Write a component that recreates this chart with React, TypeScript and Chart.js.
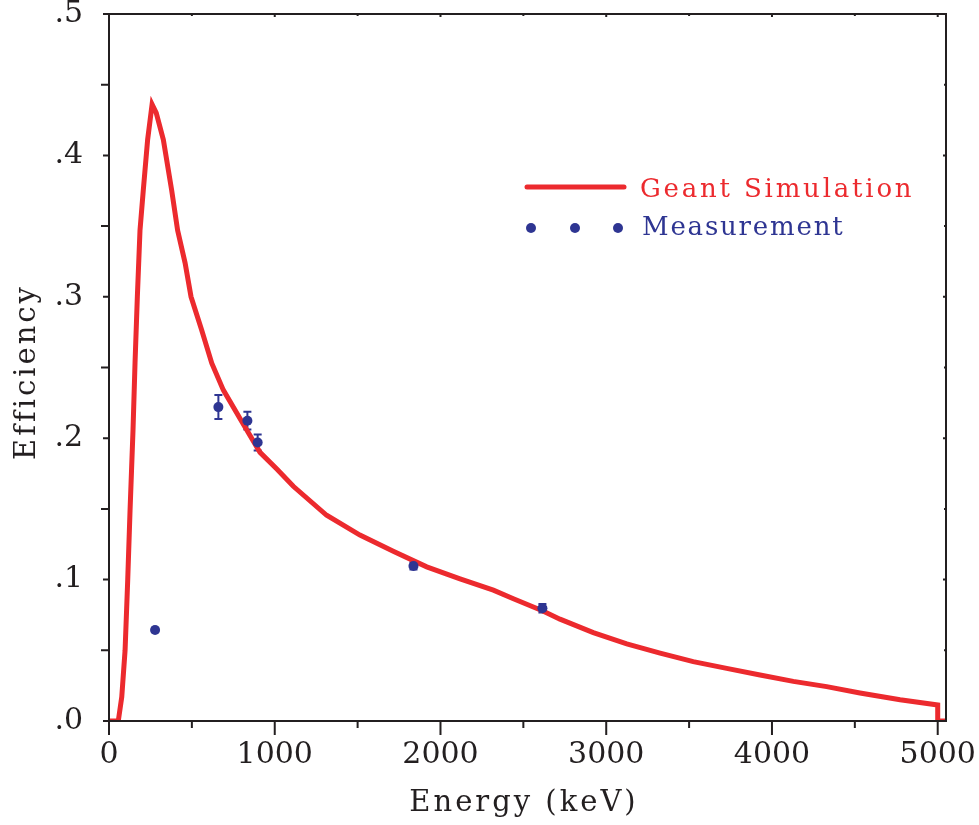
import React, { useEffect, useRef } from "react";
import { Chart, registerables } from "chart.js";

Chart.register(...registerables);

// Geant simulation curve (energy in keV, efficiency)
const simEnergy = [0, 56, 77, 97, 113, 127, 145, 157, 171, 187, 207, 233, 260, 285, 328, 378, 414, 459, 495, 559, 620, 690, 800, 911, 1014, 1112, 1313, 1514, 1715, 1917, 2118, 2319, 2440, 2615, 2721, 2922, 3124, 3325, 3525, 3727, 3928, 4129, 4330, 4531, 4773, 5000, 5000, 5050];
const simEfficiency = [0, 0, 0.017, 0.05, 0.1, 0.149, 0.206, 0.253, 0.3, 0.347, 0.3755, 0.411, 0.436, 0.43, 0.411, 0.3755, 0.347, 0.324, 0.3, 0.2765, 0.253, 0.234, 0.212, 0.19, 0.178, 0.166, 0.1455, 0.1315, 0.12, 0.109, 0.1005, 0.0925, 0.0865, 0.078, 0.072, 0.0625, 0.0545, 0.048, 0.042, 0.0372, 0.0325, 0.028, 0.0243, 0.0198, 0.015, 0.0113, 0, 0];

// Measurements
const measEnergy = [278, 660, 835, 897, 1837, 2615];
const measEfficiency = [0.0644, 0.222, 0.2124, 0.197, 0.1096, 0.0797];
const measError = [0.0015, 0.0085, 0.0063, 0.0057, 0.0025, 0.003];

// Axes
const xMajorTicks = [0, 1000, 2000, 3000, 4000, 5000];
const xMinorTicks = [500, 1500, 2500, 3500, 4500];
const yMajorTicks = [0, 0.1, 0.2, 0.3, 0.4, 0.5];
const yMajorLabels = [".0", ".1", ".2", ".3", ".4", ".5"];
const yMinorTicks = [0.05, 0.15, 0.25, 0.35, 0.45];

const xTitle = "Energy (keV)";
const yTitle = "Efficiency";
const legendLabels = ["Geant Simulation", "Measurement"];

const RED = "#ec2a2e";
const BLUE = "#2e3592";
const INK = "#231f20";
const SERIF = "'DejaVu Serif', serif";

const decorPlugin = {
  id: "decor",
  beforeDatasetsDraw(chart: any) {
    const ctx = chart.ctx;
    const xs = chart.scales.x;
    const ys = chart.scales.y;
    ctx.save();
    ctx.strokeStyle = BLUE;
    ctx.lineWidth = 2;
    measEnergy.forEach((e, i) => {
      const px = xs.getPixelForValue(e);
      const y1 = ys.getPixelForValue(measEfficiency[i] + measError[i]);
      const y2 = ys.getPixelForValue(measEfficiency[i] - measError[i]);
      ctx.beginPath();
      ctx.moveTo(px, y1);
      ctx.lineTo(px, y2);
      ctx.moveTo(px - 4, y1);
      ctx.lineTo(px + 4, y1);
      ctx.moveTo(px - 4, y2);
      ctx.lineTo(px + 4, y2);
      ctx.stroke();
    });
    ctx.restore();
  },
  afterDraw(chart: any) {
    const ctx = chart.ctx;
    const { left, right, top, bottom } = chart.chartArea;
    const xs = chart.scales.x;
    const ys = chart.scales.y;
    ctx.save();
    // frame
    ctx.strokeStyle = INK;
    ctx.lineWidth = 2;
    ctx.strokeRect(left, top, right - left, bottom - top);
    ctx.beginPath();
    xMajorTicks.forEach((v) => {
      const p = xs.getPixelForValue(v);
      ctx.moveTo(p, bottom);
      ctx.lineTo(p, bottom + 14);
      ctx.moveTo(p, top);
      ctx.lineTo(p, top + 3);
    });
    xMinorTicks.forEach((v) => {
      const p = xs.getPixelForValue(v);
      ctx.moveTo(p, bottom);
      ctx.lineTo(p, bottom + 7);
      ctx.moveTo(p, top);
      ctx.lineTo(p, top + 2);
    });
    yMajorTicks.forEach((v) => {
      const p = ys.getPixelForValue(v);
      ctx.moveTo(left, p);
      ctx.lineTo(left - 6, p);
      ctx.moveTo(right, p);
      ctx.lineTo(right - 3, p);
    });
    yMinorTicks.forEach((v) => {
      const p = ys.getPixelForValue(v);
      ctx.moveTo(left, p);
      ctx.lineTo(left - 8, p);
      ctx.moveTo(right, p);
      ctx.lineTo(right - 2, p);
    });
    ctx.stroke();

    // axis titles
    ctx.fillStyle = INK;
    ctx.font = `500 29px ${SERIF}`;
    (ctx as any).letterSpacing = "3px";
    ctx.textAlign = "center";
    ctx.textBaseline = "middle";
    ctx.fillText(xTitle, 524, 803);
    ctx.save();
    ctx.translate(27, 372);
    ctx.rotate(-Math.PI / 2);
    ctx.fillText(yTitle, 0, 0);
    ctx.restore();

    // legend
    ctx.strokeStyle = RED;
    ctx.lineWidth = 5;
    ctx.lineCap = "round";
    ctx.beginPath();
    ctx.moveTo(527, 187);
    ctx.lineTo(624, 187);
    ctx.stroke();
    ctx.fillStyle = BLUE;
    [531, 575, 618].forEach((x) => {
      ctx.beginPath();
      ctx.arc(x, 228, 5, 0, Math.PI * 2);
      ctx.fill();
    });
    ctx.font = `26px ${SERIF}`;
    ctx.textAlign = "left";
    (ctx as any).letterSpacing = "2.8px";
    ctx.fillStyle = RED;
    ctx.fillText(legendLabels[0], 640, 190);
    (ctx as any).letterSpacing = "1.8px";
    ctx.fillStyle = BLUE;
    ctx.fillText(legendLabels[1], 642, 228);
    ctx.restore();
  },
};

export default function App() {
  const ref = useRef<HTMLCanvasElement>(null);
  useEffect(() => {
    if (!ref.current) return;
    const chart = new Chart(ref.current, {
      type: "line",
      data: {
        datasets: [
          {
            label: legendLabels[0],
            data: simEnergy.map((e, i) => ({ x: e, y: simEfficiency[i] })),
            borderColor: RED,
            borderWidth: 5,
            pointRadius: 0,
            tension: 0,
            order: 2,
          },
          {
            label: legendLabels[1],
            data: measEnergy.map((e, i) => ({ x: e, y: measEfficiency[i] })),
            showLine: false,
            pointRadius: 5,
            pointBackgroundColor: BLUE,
            pointBorderColor: BLUE,
            pointBorderWidth: 0,
            order: 1,
          },
        ],
      },
      options: {
        animation: false,
        responsive: false,
        layout: { padding: { top: 14, right: 33, left: 0, bottom: 0 } },
        plugins: { legend: { display: false }, tooltip: { enabled: false } },
        scales: {
          x: {
            type: "linear",
            min: 0,
            max: 5050,
            grid: { display: false, drawTicks: false },
            border: { display: false },
            afterBuildTicks: (s: any) => {
              s.ticks = xMajorTicks.map((v) => ({ value: v }));
            },
            afterFit: (s: any) => {
              s.height = 104;
              s.paddingLeft = 0;
              s.paddingRight = 0;
              s.paddingTop = 0;
              s.paddingBottom = 0;
            },
            ticks: {
              autoSkip: false,
              maxRotation: 0,
              padding: 16,
              color: INK,
              font: { family: SERIF, size: 30 },
              callback: (v: any) => String(v),
            },
          },
          y: {
            type: "linear",
            min: 0,
            max: 0.5,
            grid: { display: false, drawTicks: false },
            border: { display: false },
            afterBuildTicks: (s: any) => {
              s.ticks = yMajorTicks.map((v) => ({ value: v }));
            },
            afterFit: (s: any) => {
              s.width = 109;
              s.paddingLeft = 0;
              s.paddingRight = 0;
              s.paddingTop = 0;
              s.paddingBottom = 0;
            },
            ticks: {
              autoSkip: false,
              padding: 26,
              color: INK,
              font: { family: SERIF, size: 30 },
              callback: (v: any) => {
                const i = yMajorTicks.findIndex((t) => Math.abs(t - v) < 1e-9);
                return i >= 0 ? yMajorLabels[i] : "";
              },
            },
          },
        },
      },
      plugins: [decorPlugin],
    });
    return () => chart.destroy();
  }, []);
  return (
    <div style={{ position: "fixed", left: 0, top: 0, width: 979, height: 825, background: "#fff" }}>
      <canvas ref={ref} width={979} height={825} style={{ width: 979, height: 825, display: "block" }} />
    </div>
  );
}
